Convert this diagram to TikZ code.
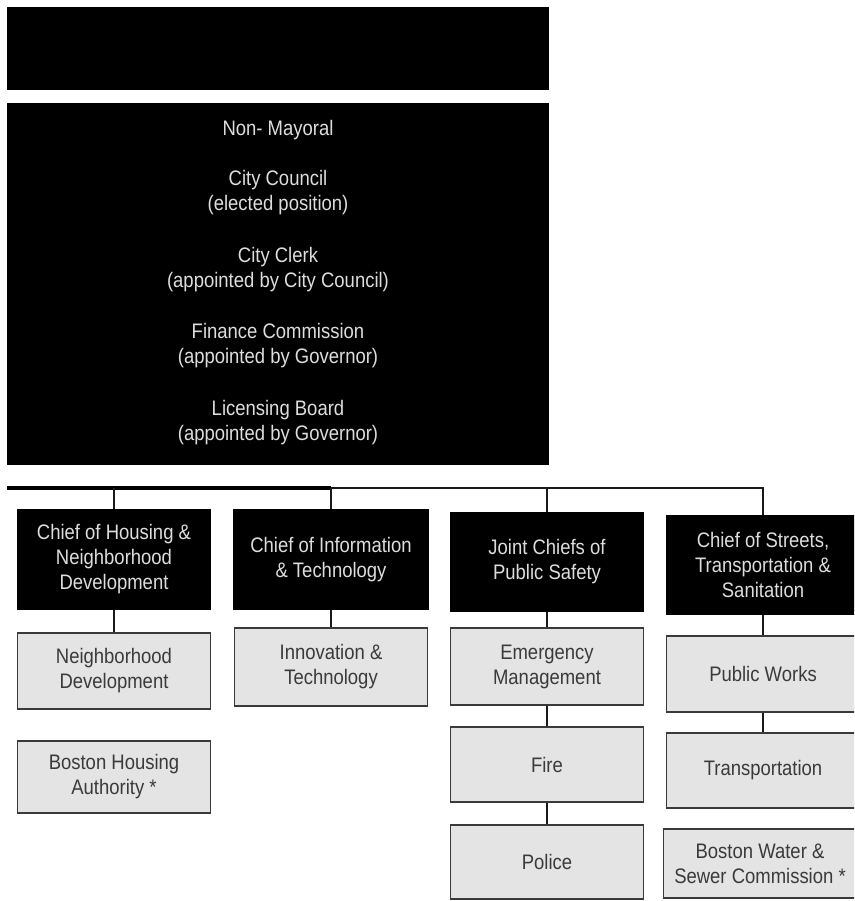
\documentclass[tikz,border=0pt]{standalone}
\usepackage{fontspec}
\setmainfont{Liberation Sans}[FakeStretch=0.88]
\definecolor{boxgray}{HTML}{E4E4E4}
\definecolor{edgegray}{HTML}{3A3A3A}
\definecolor{paletext}{HTML}{DDDDDD}
\begin{document}
\begin{tikzpicture}[x=1pt,y=-1pt,
  every node/.style={font=\fontsize{21}{25}\selectfont, align=center, inner sep=0pt},
  topbox/.style={fill=black, text=paletext, minimum width=542pt},
  toptext/.style={text=paletext},
  chief/.style={fill=black, text=paletext, minimum width=194pt, minimum height=100pt},
  unit/.style={fill=boxgray, draw=edgegray, line width=1.6pt, text=edgegray, minimum width=193pt},
  link/.style={draw=black!90, line width=2.2pt},
  buswide/.style={draw=black, line width=3.8pt}]
\clip (0,0) rectangle (854,901);
\useasboundingbox (0,0) rectangle (854,901);
\fill[white] (0,0) rectangle (854,901);

% top boxes
\node[topbox, minimum height=83pt] (hdr) at (278,48.5) {};
\node[topbox, minimum height=362pt] (nonm) at (278,284) {};
\node[toptext] (t1) at (278,130) {Non- Mayoral};
\node[toptext] (t2) at (278,193) {City Council\\(elected position)};
\node[toptext] (t3) at (278,270) {City Clerk\\(appointed by City Council)};
\node[toptext] (t4) at (278,345.5) {Finance Commission\\(appointed by Governor)};
\node[toptext] (t5) at (278,422.5) {Licensing Board\\(appointed by Governor)};

% chiefs
\node[chief, minimum height=101pt] (hou) at (114,559.5) {Chief of Housing \&\\Neighborhood\\Development};
\node[chief, minimum width=196pt, minimum height=101pt] (inf) at (331,559.5) {Chief of Information\\\& Technology};
\node[chief] (saf) at (547,562) {Joint Chiefs of\\Public Safety};
\node[chief] (str) at (763,565) {Chief of Streets,\\Transportation \&\\Sanitation};

% units
\node[unit, minimum height=76pt] (nd) at (114,671) {Neighborhood\\Development};
\node[unit, minimum height=78pt] (inn) at (331,667) {Innovation \&\\Technology};
\node[unit, minimum height=72pt] (bha) at (114,777) {Boston Housing\\Authority *};
\node[unit, minimum height=77pt] (em) at (547,666.5) {Emergency\\Management};
\node[unit, minimum height=75pt] (fire) at (547,764.5) {Fire};
\node[unit, minimum height=74pt] (pol) at (547,862) {Police};
\node[unit, minimum height=76pt] (pw) at (763,674) {Public Works};
\node[unit, minimum height=75pt] (trn) at (763,770.5) {Transportation};
\node[unit, minimum height=69pt] (bws) at (760,863.5) {Boston Water \&\\Sewer Commission *};

% bus and drops
\coordinate (bus) at (7,488);
\draw[buswide] (bus) -- (bus -| inf.north);
\draw[link] (bus -| inf.north) -| (str.north);
\draw[link] (bus -| hou.north) -- (hou.north);
\draw[link] (bus -| inf.north) -- (inf.north);
\draw[link] (bus -| saf.north) -- (saf.north);

% chains
\draw[link] (hou.south) -- (nd.north);
\draw[link] (inf.south) -- (inn.north);
\draw[link] (saf.south) -- (em.north);
\draw[link] (em.south) -- (fire.north);
\draw[link] (fire.south) -- (pol.north);
\draw[link] (str.south) -- (pw.north);
\draw[link] (pw.south) -- (trn.north);
\end{tikzpicture}
\end{document}
